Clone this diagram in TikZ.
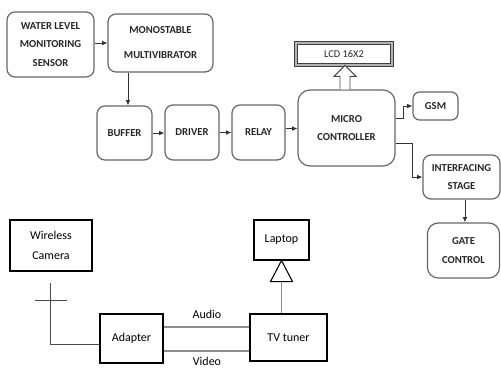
\documentclass[tikz,border=0pt]{standalone}
\usepackage{fontspec}
\setmainfont{Carlito}
\usetikzlibrary{arrows.meta,calc}
\begin{document}
\begin{tikzpicture}[x=0.75pt,y=-0.75pt,
  topbox/.style={draw=black!60, line width=0.9pt, rounded corners=6pt, align=center,
    text=black!85, font=\fontsize{8}{14}\selectfont\bfseries, inner sep=0pt},
  botbox/.style={draw=black, line width=0.8pt, align=center,
    font=\fontsize{9}{15}\selectfont, inner sep=0pt},
  arr/.style={-{Latex[length=4pt,width=3.5pt]}, draw=black!80, line width=0.6pt},
  gline/.style={draw=black!45, line width=0.8pt},
  lbl/.style={font=\fontsize{9}{11}\selectfont, inner sep=0pt}]
\useasboundingbox (0,0) rectangle (501,369);

% top part
\node[topbox, minimum width=65.25pt, minimum height=48.75pt] (sensor) at (50.5,44.5) {WATER LEVEL\\MONITORING\\SENSOR};
\node[topbox, minimum width=78.75pt, minimum height=43.5pt, font=\fontsize{8}{18.75}\selectfont\bfseries] (mono) at (160.5,43) {MONOSTABLE\\MULTIVIBRATOR};
\node[topbox, minimum width=41.25pt, minimum height=40.5pt] (buffer) at (124.5,133) {BUFFER};
\node[topbox, minimum width=40.5pt, minimum height=41.25pt] (driver) at (192,132.5) {DRIVER};
\node[topbox, minimum width=39.75pt, minimum height=41.25pt] (relay) at (258.5,132.5) {RELAY};
\node[topbox, minimum width=72.75pt, minimum height=57pt, rounded corners=9pt] (micro) at (346.5,128) {MICRO\\CONTROLLER};
\node[draw=black!75, line width=0.6pt, double=black!30, double distance=1.2pt, minimum width=72pt, minimum height=16.5pt,
  font=\fontsize{7.8}{9}\selectfont, text=black!85, inner sep=0pt] (lcd) at (344,54) {LCD 16X2};
\node[topbox, minimum width=33.75pt, minimum height=21pt, rounded corners=5pt] (gsm) at (435.5,106) {GSM};
\node[topbox, minimum width=57.75pt, minimum height=33pt] (intf) at (461.5,177) {INTERFACING\\STAGE};
\node[topbox, minimum width=54pt, minimum height=41.25pt, rounded corners=8pt] (gate) at (463.5,250.5) {GATE\\CONTROL};

\draw[arr] (sensor.east |- 0,43) -- (mono.west |- 0,43);
\draw[arr] ([xshift=2.6pt]buffer.north |- mono.south) -- ([xshift=2.6pt]buffer.north);
\draw[arr] (buffer.east) -- (driver.west |- buffer.east);
\draw[arr] (driver.east) -- (relay.west);
\draw[arr] ([yshift=3pt]relay.east) -- ([yshift=3pt]micro.west |- relay.east);
\draw[arr] ([yshift=7.5pt]micro.east) -- ++(8,0) |- (gsm.west);
\draw[arr] ([yshift=-11.25pt]micro.east) -- ++(17,0) |- (intf.west);
\draw[arr] ([xshift=2.6pt]intf.south) -- ([xshift=2.6pt]intf.south |- gate.north);
% hollow block arrow to LCD
\draw[draw=black!70, fill=white, line width=0.7pt]
  ($(micro.north)+(-6.5,0)$) -- ++(0,-13) -- ++(-6,0) -- ++(11,-11) -- ++(11,11) -- ++(-6,0) -- ++(0,13);

% bottom part
\node[botbox, minimum width=61.5pt, minimum height=38.25pt] (camera) at (51,245.5) {Wireless\\Camera};
\node[botbox, minimum width=47.25pt, minimum height=36.75pt] (adapter) at (131.5,338.5) {Adapter};
\node[botbox, minimum width=57.75pt, minimum height=35.25pt] (tuner) at (288.5,337.5) {TV tuner};
\node[botbox, minimum width=41.25pt, minimum height=30pt] (laptop) at (281.5,240) {Laptop};

\coordinate (ant) at (50,283);
\coordinate (barl) at (35,300);
\coordinate (barr) at (67,300);
\draw[draw=black!70, line width=0.7pt] (ant) |- (adapter.west |- 0,344);
\draw[draw=black!70, line width=0.7pt] (barl) -- (barr);

\draw[gline] (adapter.east |- 0,327) -- (tuner.west |- 0,327);
\draw[gline] (adapter.east |- 0,351) -- (tuner.west |- 0,351);
\node[lbl] (audio) at (207,314) {Audio};
\node[lbl] (video) at (207,361) {Video};

\draw[gline] (laptop.south |- tuner.north) -- ([yshift=-15.75pt]laptop.south);
\draw[draw=black, line width=0.8pt, fill=white] (laptop.south) -- ++(-11,21) -- ++(22,0) -- cycle;
\end{tikzpicture}
\end{document}
